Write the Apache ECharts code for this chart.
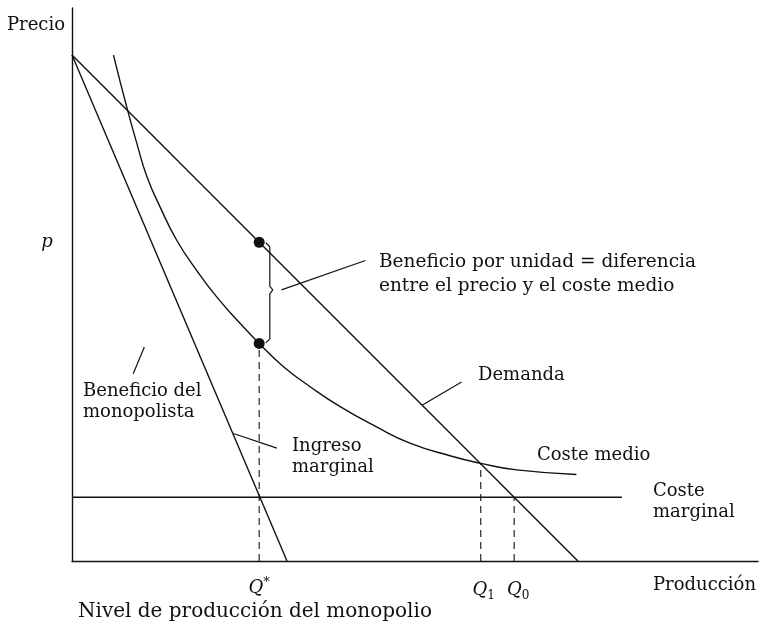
<!DOCTYPE html>
<html>
<head>
<meta charset="utf-8">
<script src="https://cdn.jsdelivr.net/npm/echarts@6/dist/echarts.min.js"></script>
<style>
    html, body { margin: 0; padding: 0; background: #fff; }
    #main { width: 761px; height: 628px; }
</style>
</head>
<body>
<div id="main"></div>
<script>
//datos (unidades arbitrarias)
var demanda = [[0, 100], [100, 0]];
var ingresoMarginal = [[0, 100], [42.5, 0]];
var costeMarginal = [[0, 12.6], [108.7, 12.6]];
var costeMedio = [[8.2, 100], [10.8, 89.8], [12.8, 82.6], [14.8, 76], [17.4, 70], [20.7, 63.4], [24.6, 57.5],
    [28.6, 52.2], [33.2, 47], [37, 43], [41.8, 38.4], [47, 34.5], [53, 30.5], [60.2, 26.5], [66.8, 23.3],
    [74.7, 20.8], [80.8, 19.3], [87.9, 18], [99.7, 17.1]];

var qEstrella = 37;
var q1 = 80.8;
var q1Coste = 19.3;
var q0 = 87.4;
var puntos = [[37, 63], [37, 43]];

//lineas auxiliares (llave y lineas de las etiquetas)
var llave = [[38.3, 62.9], [39.1, 62.1], [39.1, 54.3], [39.7, 53.6], [39.1, 52.8], [39.1, 43.9], [38.3, 43.1]];
var guiaBeneficio = [[41.4, 53.6], [58.0, 59.4]];
var guiaMonopolista = [[14.3, 42.3], [12.1, 37.0]];
var guiaIngreso = [[31.9, 25.2], [40.5, 22.3]];
var guiaDemanda = [[69.2, 30.8], [77.0, 35.4]];

var ejeX = [0, 135.6];
var ejeY = [0, 109.3];

var FONT = '"DejaVu Serif", "Liberation Serif", serif';
var NEGRO = '#111';

window.onload = function () {
    var chart = echarts.init(document.getElementById('main'));
    chart.setOption(buildOption());

    //etiquetas en pixeles a partir de coordenadas de datos
    var p = function (v) { return chart.convertToPixel({gridIndex: 0}, v); };
    var graphics = [
        texto('Precio', 7, 25, {}),
        texto('p', p([0, puntos[0][1]])[0] - 25, p([0, puntos[0][1]])[1], {fontStyle: 'italic', align: 'center'}),
        texto('Beneficio por unidad = diferencia\nentre el precio y el coste medio', 379, 274, {lineHeight: 24, size: 18.5}),
        texto('Demanda', 478, 375, {}),
        texto('Beneficio del\nmonopolista', 83, 402, {lineHeight: 21}),
        texto('Ingreso\nmarginal', 292, 457, {lineHeight: 21}),
        texto('Coste medio', 537, 455, {}),
        texto('Coste\nmarginal', 653, 502, {lineHeight: 21}),
        texto('Producción', 653, 585, {}),
        texto('Nivel de producción del monopolio', 78, 612, {size: 20}),
        richQ('{q|Q}{s|*}', p([qEstrella, 0])[0], 588),
        richQ('{q|Q}{b|1}', p([q1, 0])[0] + 3, 590),
        richQ('{q|Q}{b|0}', p([q0, 0])[0] + 4, 590)
    ];
    chart.setOption({graphic: graphics});
};

function texto(t, x, y, extra) {
    var style = {
        text: t,
        x: x,
        y: y,
        fill: NEGRO,
        font: (extra.fontStyle || 'normal') + ' ' + (extra.size || 18) + 'px ' + FONT,
        textAlign: extra.align || 'left',
        textVerticalAlign: 'middle'
    };
    if (extra.lineHeight) {
        style.lineHeight = extra.lineHeight;
    }
    return {type: 'text', silent: true, style: style};
}

function richQ(t, x, y) {
    return {
        type: 'text',
        silent: true,
        style: {
            text: t,
            x: x,
            y: y,
            align: 'center',
            verticalAlign: 'middle',
            rich: {
                q: {fontFamily: FONT, fontStyle: 'italic', fontSize: 18, fill: NEGRO, lineHeight: 24, verticalAlign: 'middle'},
                s: {fontFamily: FONT, fontSize: 13, fill: NEGRO, lineHeight: 24, verticalAlign: 'top', padding: [0, 0, 6, 0]},
                b: {fontFamily: FONT, fontSize: 12, fill: NEGRO, lineHeight: 24, verticalAlign: 'bottom', padding: [8, 0, 0, 0]}
            }
        }
    };
}

function linea(nombre, data, extra) {
    extra = extra || {};
    return {
        name: nombre,
        type: 'line',
        data: data,
        symbol: 'none',
        smooth: extra.smooth || false,
        silent: true,
        lineStyle: {color: NEGRO, width: extra.width || 1.4, type: extra.dash || 'solid'}
    };
}

function buildOption() {
    return {
        animation: false,
        backgroundColor: '#fff',
        grid: {left: 72, top: 8, right: 3, bottom: 67},
        xAxis: {
            type: 'value', min: ejeX[0], max: ejeX[1],
            axisLine: {show: true, onZero: false, lineStyle: {color: NEGRO, width: 1.4}},
            axisTick: {show: false}, axisLabel: {show: false}, splitLine: {show: false}
        },
        yAxis: {
            type: 'value', min: ejeY[0], max: ejeY[1],
            axisLine: {show: true, onZero: false, lineStyle: {color: NEGRO, width: 1.4}},
            axisTick: {show: false}, axisLabel: {show: false}, splitLine: {show: false}
        },
        series: [
            linea('Demanda', demanda),
            linea('Ingreso marginal', ingresoMarginal),
            linea('Coste marginal', costeMarginal),
            linea('Coste medio', costeMedio, {smooth: 0.5}),
            linea('Q*', [[qEstrella, 0], [qEstrella, puntos[1][1]]], {dash: [7, 5], width: 1.1}),
            linea('Q1', [[q1, 0], [q1, q1Coste]], {dash: [7, 5], width: 1.1}),
            linea('Q0', [[q0, 0], [q0, costeMarginal[0][1]]], {dash: [7, 5], width: 1.1}),
            linea('llave', llave, {width: 1.2}),
            linea('g1', guiaBeneficio, {width: 1.2}),
            linea('g2', guiaMonopolista, {width: 1.2}),
            linea('g3', guiaIngreso, {width: 1.2}),
            linea('g4', guiaDemanda, {width: 1.2}),
            {
                type: 'scatter',
                data: puntos,
                symbolSize: 11,
                silent: true,
                itemStyle: {color: NEGRO, opacity: 1}
            }
        ]
    };
}
</script>
</body>
</html>
